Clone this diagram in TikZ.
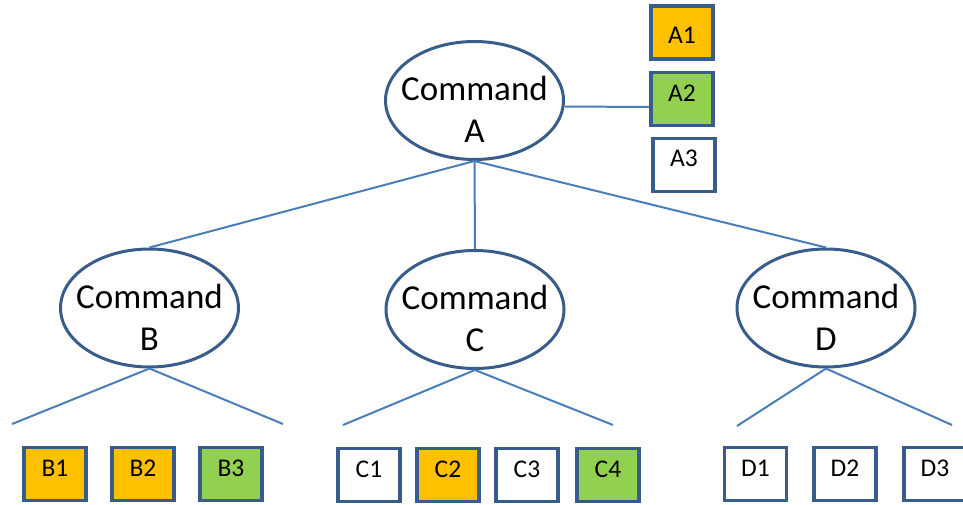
\documentclass[tikz,border=0pt]{standalone}
\usepackage{fontspec}
\setmainfont{Carlito}
\usetikzlibrary{shapes.geometric}
\definecolor{rim}{HTML}{385D8A}
\definecolor{wire}{HTML}{4A7EBB}
\definecolor{amber}{HTML}{FFC000}
\definecolor{leaf}{HTML}{92D050}
\begin{document}
\begin{tikzpicture}[x=1pt,y=-1pt,
  cmd/.style={ellipse,draw=rim,line width=3pt,fill=white,
    minimum width=178pt,minimum height=118pt,inner sep=-20pt,
    align=center,font=\fontsize{35}{42}\selectfont},
  task/.style={rectangle,draw=rim,line width=3.8pt,fill=white,
    minimum width=62pt,minimum height=53pt,inner sep=0pt,
    font=\fontsize{25.5}{30}\selectfont,text height=16pt,text depth=11pt},
  link/.style={draw=wire,line width=2pt}]
\useasboundingbox (0,0) rectangle (963,504);

% command hierarchy
\node[cmd] (A) at (474.5,100.5) {\rule{0pt}{42pt}Command\\A};
\node[cmd] (B) at (149.5,308) {\rule{0pt}{42pt}Command\\B};
\node[cmd] (C) at (475,309.5) {\rule{0pt}{42pt}Command\\C};
\node[cmd] (D) at (826,308) {\rule{0pt}{42pt}Command\\D};

% tasks of command A
\node[task,fill=amber,text height=21pt,text depth=0pt] (A1) at (682,32.5) {A1};
\node[task,fill=leaf] (A2) at (682,99) {A2};
\node[task,text depth=14pt] (A3) at (684,165) {A3};

% tasks of commands B, C, D
\node[task,fill=amber] (B1) at (55,474) {B1};
\node[task,fill=amber] (B2) at (143,474) {B2};
\node[task,fill=leaf]  (B3) at (231,474) {B3};
\node[task] (C1) at (369,475) {C1};
\node[task,fill=amber] (C2) at (448,475) {C2};
\node[task] (C3) at (527,475) {C3};
\node[task,fill=leaf] (C4) at (608,475) {C4};
\node[task] (D1) at (755.5,474) {D1};
\node[task] (D2) at (845,474) {D2};
\node[task] (D3) at (935,474) {D3};

% free ends of the short branches
\coordinate (bl) at (12,424);
\coordinate (br) at (283,424);
\coordinate (cl) at (343,425);
\coordinate (cr) at (613,425);
\coordinate (dl) at (737,426);
\coordinate (dr) at (952,425);

% connectors
\draw[link] (A.south) -- (B.north);
\draw[link] (A.south) -- (C.north);
\draw[link] (A.south) -- (D.north);
\draw[link] ([yshift=-6pt]A.east) -- ([yshift=-8pt]A2.west);
\draw[link] (B.south) -- (bl);
\draw[link] (B.south) -- (br);
\draw[link] (C.south) -- (cl);
\draw[link] (C.south) -- (cr);
\draw[link] (D.south) -- (dl);
\draw[link] (D.south) -- (dr);
\end{tikzpicture}
\end{document}
